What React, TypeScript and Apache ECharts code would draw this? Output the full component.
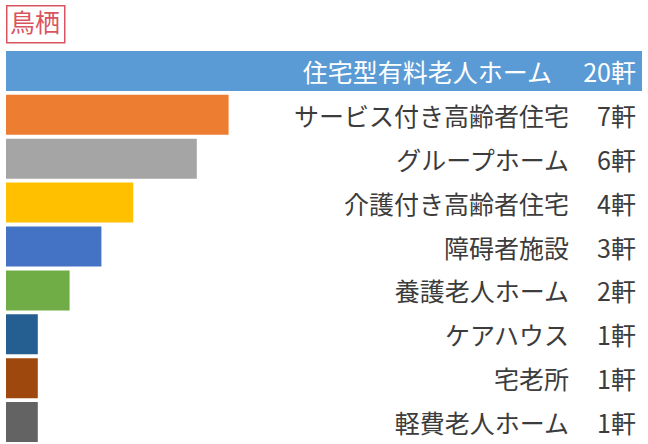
import React, { useEffect, useRef } from "react";
import * as echarts from "echarts";

const titleText = "鳥栖";
const categories = [
  "住宅型有料老人ホーム",
  "サービス付き高齢者住宅",
  "グループホーム",
  "介護付き高齢者住宅",
  "障碍者施設",
  "養護老人ホーム",
  "ケアハウス",
  "宅老所",
  "軽費老人ホーム",
];
const values = [20, 7, 6, 4, 3, 2, 1, 1, 1];
const unit = "軒";
const colors = [
  "#5B9BD5",
  "#ED7D31",
  "#A5A5A5",
  "#FFC000",
  "#4472C4",
  "#70AD47",
  "#255E91",
  "#9E480E",
  "#636363",
];

export default function App() {
  const ref = useRef<HTMLDivElement>(null);
  useEffect(() => {
    if (!ref.current) return;
    const chart = echarts.init(ref.current, null, { renderer: "svg" });
    const font = "'Noto Sans CJK JP', 'Noto Sans', sans-serif";
    chart.setOption({
      animation: false,
      backgroundColor: "#ffffff",
      grid: { left: 6, right: 6, top: 49, bottom: 0, containLabel: false },
      xAxis: {
        type: "value",
        min: 0,
        max: 20,
        show: false,
      },
      yAxis: {
        type: "category",
        data: categories,
        inverse: true,
        position: "right",
        axisLine: { show: false },
        axisTick: { show: false },
        splitLine: { show: false },
        z: 10,
        axisLabel: {
          inside: true,
          margin: 6,
          fontFamily: font,
          formatter: (name: string, idx: number) => {
            const k = idx === 0 ? "w" : "d";
            return `{${k}n|${name}}{${k}v|${values[idx]}${unit}}`;
          },
          rich: {
            wn: { color: "#ffffff", fontSize: 25, fontFamily: font },
            wv: { color: "#ffffff", fontSize: 25, fontFamily: font, width: 84, align: "right" },
            dn: { color: "#3c3c3c", fontSize: 25, fontFamily: font },
            dv: { color: "#3c3c3c", fontSize: 25, fontFamily: font, width: 67, align: "right" },
          },
        },
      },
      series: [
        {
          type: "bar",
          barWidth: 40,
          data: values.map((v, i) => ({
            value: v,
            itemStyle: { color: colors[i] },
          })),
        },
      ],
      graphic: [
        {
          type: "rect",
          left: 6,
          top: 5,
          shape: { width: 58, height: 37 },
          style: { fill: "#fff", stroke: "#d9545f", lineWidth: 1.5 },
        },
        {
          type: "text",
          left: 10,
          top: 8,
          style: {
            text: titleText,
            fill: "#d9545f",
            fontSize: 25,
            fontFamily: font,
          },
        },
      ],
    });
    return () => chart.dispose();
  }, []);
  return <div ref={ref} style={{ width: 648, height: 444, position: "absolute", left: 0, top: 0 }} />;
}
